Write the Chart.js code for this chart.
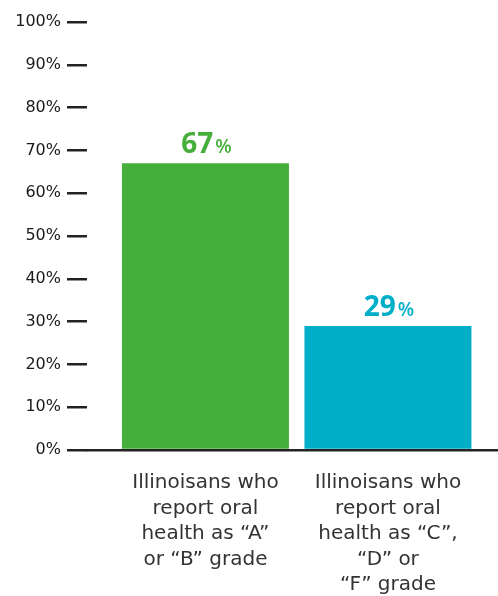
<!DOCTYPE html>
<html>
<head>
<meta charset="utf-8">
<script src="https://cdn.jsdelivr.net/npm/chart.js@4"></script>
<style>
html,body{margin:0;padding:0;background:#fff;}
#wrap{width:498px;height:596px;position:relative;}
</style>
</head>
<body>
<div id="wrap"><canvas id="c"></canvas></div>
<script>
const categories = [
  ["Illinoisans who", "report oral", "health as \u201CA\u201D", "or \u201CB\u201D grade"],
  ["Illinoisans who", "report oral", "health as \u201CC\u201D,", "\u201CD\u201D or", "\u201CF\u201D grade"]
];
const values = [67, 29];
const barColors = ["#46AE3A", "#00AEC7"];
const yTicks = [0, 10, 20, 30, 40, 50, 60, 70, 80, 90, 100];

const SANS = "'DejaVu Sans', sans-serif";
const LABEL_FONT = "'Open Sans', sans-serif";

const valueLabels = {
  id: 'valueLabels',
  afterDatasetsDraw(chart) {
    const ctx = chart.ctx;
    const meta = chart.getDatasetMeta(0);
    meta.data.forEach((bar, i) => {
      const {x, y} = bar.getProps(['x', 'y'], true);
      const num = String(values[i]);
      ctx.save();
      ctx.fillStyle = barColors[i];
      ctx.textBaseline = 'alphabetic';
      ctx.font = "700 28px " + LABEL_FONT;
      const w1 = ctx.measureText(num).width;
      ctx.font = "600 19px " + LABEL_FONT;
      const w2 = ctx.measureText('%').width;
      const start = x - (w1 + w2) / 2;
      ctx.font = "700 28px " + LABEL_FONT;
      ctx.fillText(num, start, y - 10);
      ctx.font = "600 19px " + LABEL_FONT;
      ctx.fillText('%', start + w1 + 2, y - 10);
      ctx.restore();
    });
  }
};

new Chart(document.getElementById('c'), {
  type: 'bar',
  data: {
    datasets: [{
      data: values.map((v, i) => ({x: i + 1, y: v})),
      backgroundColor: barColors,
      borderWidth: 0,
      barPercentage: 0.915,
      categoryPercentage: 1
    }]
  },
  options: {
    responsive: true,
    maintainAspectRatio: false,
    animation: false,
    layout: {padding: {top: 22, right: 0, left: 0, bottom: 0}},
    plugins: {legend: {display: false}, tooltip: {enabled: false}},
    scales: {
      x: {
        type: 'linear',
        offset: false,
        min: 0.351,
        max: 2.603,
        afterBuildTicks(scale) {
          scale.ticks = categories.map((c, i) => ({value: i + 1}));
        },
        afterFit(scale) { scale.height = 146; },
        grid: {display: false, drawTicks: false},
        border: {display: true, color: '#222', width: 2.5},
        ticks: {
          autoSkip: false,
          maxRotation: 0,
          padding: 20,
          color: '#333',
          font: {family: SANS, size: 20, weight: '400', lineHeight: 1.28},
          callback: (v) => categories[v - 1] || ''
        }
      },
      y: {
        min: 0,
        max: 100,
        afterBuildTicks(scale) {
          scale.ticks = yTicks.map(v => ({value: v}));
        },
        afterFit(scale) { scale.width = 87; },
        grid: {drawOnChartArea: false, drawTicks: true, tickLength: 20, color: '#222', lineWidth: 2.5},
        border: {display: false},
        ticks: {
          padding: 6,
          color: '#1a1a1a',
          font: {family: SANS, size: 16, weight: '500'},
          callback: v => v + '%'
        }
      }
    }
  },
  plugins: [valueLabels]
});
</script>
</body>
</html>
